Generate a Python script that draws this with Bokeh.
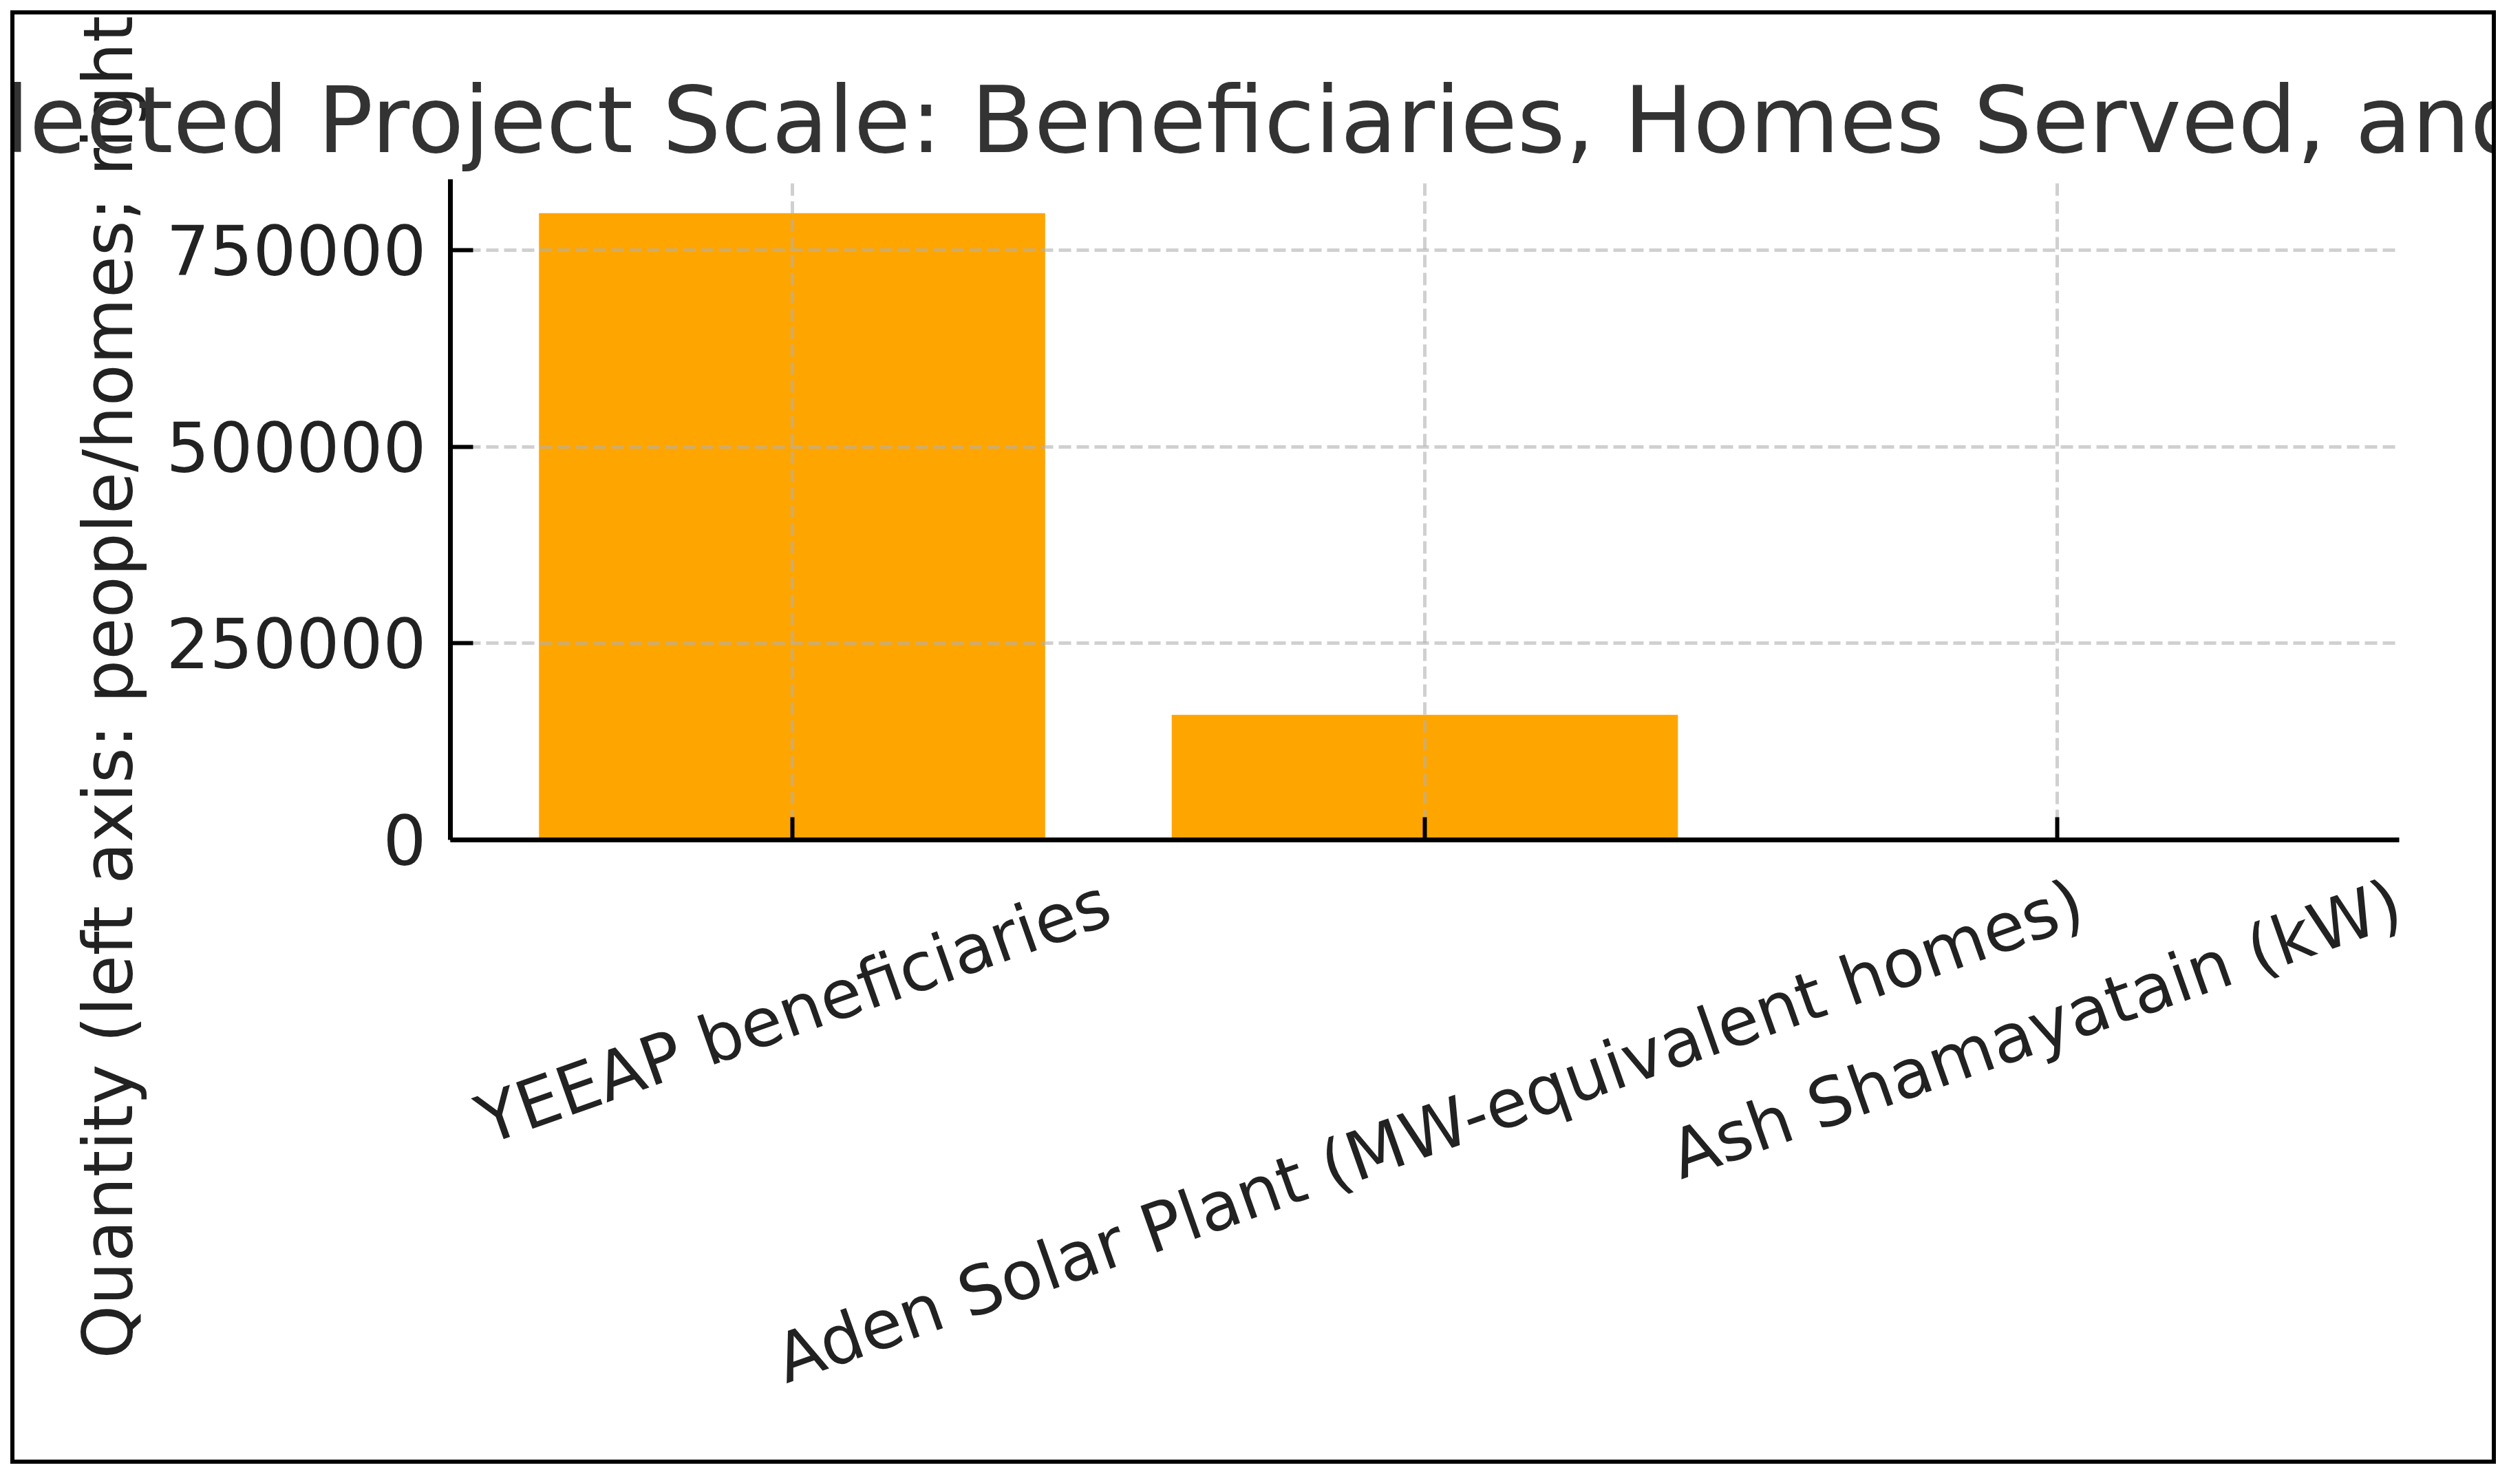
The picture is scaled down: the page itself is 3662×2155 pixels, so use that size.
import math
from bokeh.plotting import figure
from bokeh.models import Range1d, FixedTicker, BasicTickFormatter, Spacer
from bokeh.layouts import column, row
from bokeh.embed import file_html
from bokeh.resources import INLINE

# ---------------- data ----------------
categories = [
    "YEEAP beneficiaries",
    "Aden Solar Plant (MW-equivalent homes)",
    "Ash Shamayatain (kW)",
]
values = [797000, 159000, 300]
y_ticks = [0, 250000, 500000, 750000]
y_max = 840000
title_text = "Selected Project Scale: Beneficiaries, Homes Served, and Capacity"
y_label = "Quantity (left axis: people/homes; right axis: MW)"

# ---------------- layout / style ----------------
BORDER = 6
CW, CH = 3600, 2100                    # canvas size inside the black frame
ML, MR, MT, MB = 633, 147, 239, 913
FONT = "DejaVu Sans"
TICK_PX = 99
XLAB_PX = 98
TITLE_PX = 134
BAR_COLOR = "#FFA500"
ROT_DEG = 19.5

# DejaVu Sans advance widths (1/2048 em) used to centre rotated labels like matplotlib
ADV = {" ": 651, "(": 799, ")": 799, "-": 739, "A": 1401, "E": 1294, "M": 1767,
       "P": 1235, "S": 1300, "W": 2025, "Y": 1251, "a": 1255, "b": 1300, "c": 1126,
       "d": 1300, "e": 1260, "f": 721, "g": 1300, "h": 1298, "i": 569, "k": 1186,
       "l": 569, "m": 1995, "n": 1298, "o": 1253, "p": 1300, "q": 1300, "r": 842,
       "s": 1067, "t": 803, "u": 1298, "v": 1212, "y": 1212}

def text_width(s, px):
    return sum(ADV.get(ch, 1200) for ch in s) / 2048.0 * px

x_pos = list(range(len(categories)))
bar_w = 0.8
x_margin = 0.05 * ((len(categories) - 1) + bar_w)
x0 = -bar_w / 2 - x_margin
x1 = len(categories) - 1 + bar_w / 2 + x_margin

p = figure(
    width=CW + 2 * BORDER, height=CH + 2 * BORDER,
    x_range=Range1d(x0, x1),
    y_range=Range1d(0, y_max),
    output_backend="svg", toolbar_location=None,
    min_border_left=ML, min_border_right=MR, min_border_top=MT, min_border_bottom=MB,
    background_fill_color="white", border_fill_color="white",
)
p.outline_line_color = None
p.styles = {"border": f"{BORDER}px solid black"}

bars = p.vbar(x=x_pos, top=values, width=bar_w, fill_color=BAR_COLOR, line_color=None)
bars.level = "image"   # grid lines are drawn over the bars

# title
p.title.text = title_text
p.title.align = "center"
p.title.text_font = FONT
p.title.text_font_size = f"{TITLE_PX}px"
p.title.text_font_style = "normal"
p.title.text_color = "#333333"
p.title.standoff = 15

# axes
for ax in (p.xaxis[0], p.yaxis[0]):
    ax.axis_line_width = 7
    ax.axis_line_color = "black"
    ax.major_tick_in = 33
    ax.major_tick_out = 0
    ax.major_tick_line_width = 6
    ax.major_tick_line_color = "black"
    ax.minor_tick_line_color = None
    ax.major_label_text_font = FONT
    ax.major_label_text_font_size = f"{TICK_PX}px"
    ax.major_label_text_color = "#222222"

# x axis: tick marks at the categories (minor ticks); rotated labels anchored at
# their right end so that each label's centre sits under its category
theta = math.radians(ROT_DEG)
frame_w = CW - ML - MR
data_per_px = (x1 - x0) / frame_w
label_pos = []
for x, c in zip(x_pos, categories):
    lp = x + (text_width(c, XLAB_PX) / 2) * math.cos(theta) * data_per_px
    label_pos.append(round(min(lp, x1 - 0.001), 4))
xa = p.xaxis[0]
xa.ticker = FixedTicker(ticks=label_pos, minor_ticks=x_pos)
xa.major_label_overrides = {lp: c for lp, c in zip(label_pos, categories)}
xa.major_tick_line_color = None
xa.minor_tick_in = 33
xa.minor_tick_out = 0
xa.minor_tick_line_width = 6
xa.minor_tick_line_color = "black"
xa.major_label_orientation = theta
xa.major_label_text_font_size = f"{XLAB_PX}px"
h_text = 1.164 * XLAB_PX
xa.major_label_standoff = int(round(34 + (h_text / 2) * math.cos(theta)))

p.yaxis.ticker = FixedTicker(ticks=y_ticks)
p.yaxis.formatter = BasicTickFormatter(use_scientific=False)
p.yaxis.major_label_standoff = 35
p.yaxis.axis_label = y_label
p.yaxis.axis_label_text_font = FONT
p.yaxis.axis_label_text_font_size = f"{TICK_PX}px"
p.yaxis.axis_label_text_font_style = "normal"
p.yaxis.axis_label_text_color = "#222222"
p.yaxis.axis_label_standoff = 24

# grid
for g in (p.xgrid[0], p.ygrid[0]):
    g.grid_line_color = "#b0b0b0"
    g.grid_line_alpha = 0.6
    g.grid_line_width = 5
    g.grid_line_dash = "18 8"
p.xgrid.ticker = FixedTicker(ticks=x_pos)
p.ygrid.ticker = FixedTicker(ticks=y_ticks)

layout = column(Spacer(height=15), row(Spacer(width=15), p))
open("out.html", "w").write(file_html(layout, INLINE))
